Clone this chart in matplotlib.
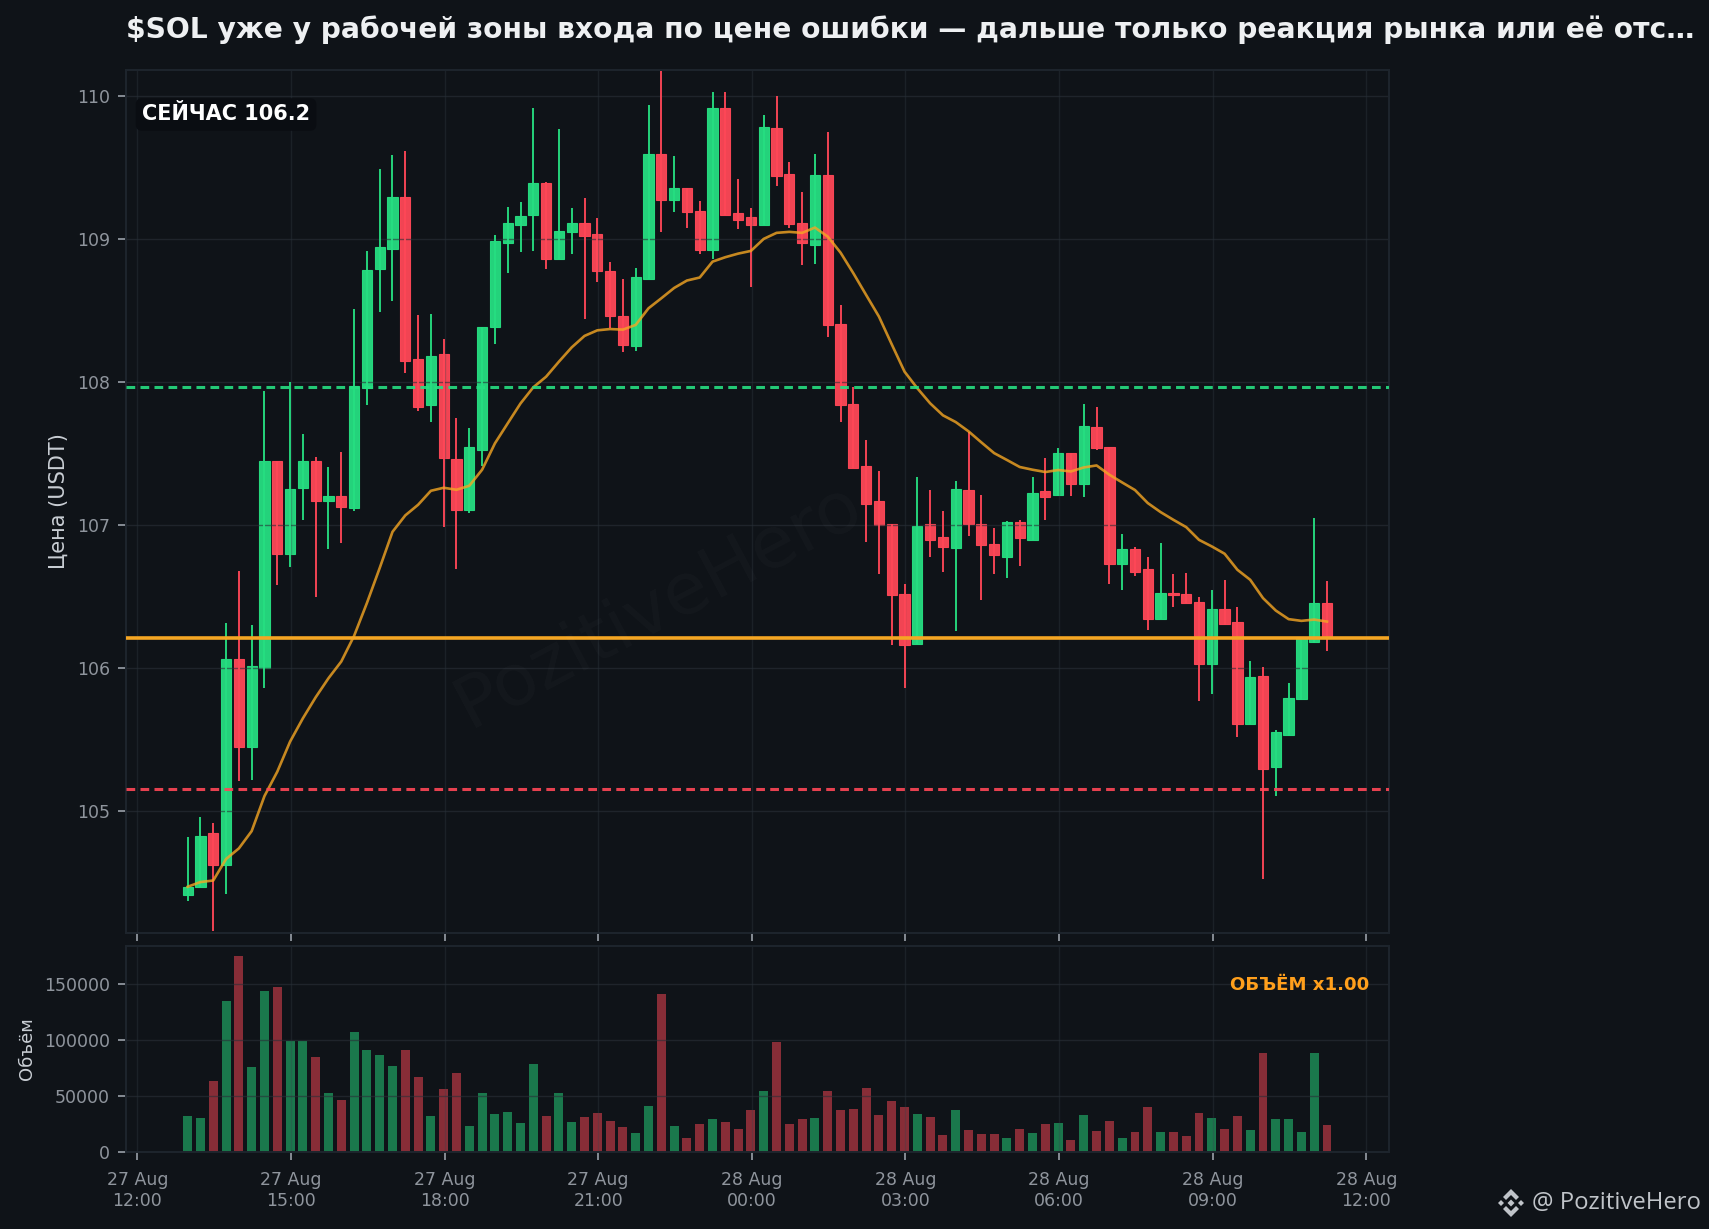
import numpy as np
import pandas as pd
import matplotlib
matplotlib.use('Agg')
import matplotlib.pyplot as plt
import matplotlib.dates as mdates
from matplotlib.patches import Polygon

# 15 min candles
start = '2025-08-27 12:59'
n_candles = 90

opens = [104.417, 104.469, 104.846, 104.627, 106.063, 105.447, 106.0, 107.448, 106.795, 107.256,
         107.45, 107.168, 107.205, 107.117, 107.956, 108.788, 108.932, 109.291, 108.158, 107.837,
         108.193, 107.459, 107.103, 107.522, 108.382, 108.974, 109.10, 109.166, 109.389, 108.862,
         109.051, 109.11, 109.033, 108.774, 108.459, 108.254, 108.723, 109.592, 109.275, 109.354,
         109.193, 108.925, 109.914, 109.179, 109.152, 109.096, 109.774, 109.452, 109.11, 108.96,
         109.445, 108.403, 107.848, 107.413, 107.168, 107.007, 106.517, 106.166, 107.007, 106.916,
         106.837, 107.245, 107.007, 106.867, 106.774, 107.019, 106.893, 107.238, 107.207, 107.503,
         107.284, 107.685, 107.545, 106.727, 106.832, 106.69, 106.347, 106.524, 106.517, 106.462,
         106.033, 106.413, 106.322, 105.613, 105.944, 105.308, 105.535, 105.783, 106.186, 106.455]
highs = [104.818, 104.958, 104.916, 106.315, 106.678, 106.30, 107.937, 107.448, 108.0, 107.636,
         107.473, 107.408, 107.508, 108.508, 108.916, 109.487, 109.585, 109.613, 108.466, 108.473,
         108.298, 107.746, 107.676, 108.387, 109.026, 109.221, 109.256, 109.914, 109.399, 109.767,
         109.214, 109.284, 109.145, 108.837, 108.718, 108.795, 109.935, 110.175, 109.578, 109.354,
         109.266, 110.026, 110.026, 109.417, 109.214, 109.865, 110.0, 109.536, 109.326, 109.592,
         109.746, 108.536, 107.963, 107.594, 107.378, 107.007, 106.59, 107.336, 107.245, 107.10,
         107.308, 107.648, 107.21, 106.979, 107.028, 107.035, 107.336, 107.469, 107.538, 107.503,
         107.846, 107.825, 107.545, 106.937, 106.846, 106.776, 106.874, 106.657, 106.664, 106.497,
         106.545, 106.615, 106.427, 106.049, 106.007, 105.566, 105.895, 106.21, 107.049, 106.608]
lows = [104.375, 104.469, 104.165, 104.422, 105.214, 105.219, 105.862, 106.583, 106.704, 107.033,
        106.50, 106.832, 106.872, 107.096, 107.842, 108.492, 108.569, 108.06, 107.80, 107.723,
        106.99, 106.69, 107.084, 107.41, 108.268, 108.76, 108.911, 108.918, 108.793, 108.862,
        108.897, 108.443, 108.70, 108.375, 108.212, 108.219, 108.723, 109.051, 109.191, 109.079,
        108.897, 108.86, 109.17, 109.07, 108.667, 109.096, 109.366, 109.079, 108.82, 108.825,
        108.317, 107.723, 107.396, 106.879, 106.655, 106.163, 105.865, 106.166, 106.774, 106.669,
        106.263, 106.921, 106.478, 106.655, 106.632, 106.711, 106.893, 107.037, 107.2, 107.2,
        107.193, 107.522, 106.592, 106.55, 106.641, 106.27, 106.347, 106.431, 106.455, 105.772,
        105.823, 106.305, 105.522, 105.613, 104.529, 105.11, 105.529, 105.776, 106.177, 106.123]
closes = [104.473, 104.83, 104.627, 106.063, 105.447, 106.016, 107.45, 106.795, 107.252, 107.45,
          107.168, 107.205, 107.126, 107.972, 108.78, 108.942, 109.291, 108.149, 107.823, 108.18,
          107.466, 107.103, 107.543, 108.387, 108.984, 109.11, 109.158, 109.389, 108.862, 109.058,
          109.11, 109.023, 108.774, 108.464, 108.261, 108.732, 109.592, 109.275, 109.354, 109.191,
          108.925, 109.914, 109.17, 109.135, 109.096, 109.781, 109.436, 109.103, 108.974, 109.445,
          108.40, 107.841, 107.396, 107.145, 107.002, 106.515, 106.159, 106.993, 106.893, 106.844,
          107.252, 107.005, 106.858, 106.788, 107.019, 106.907, 107.221, 107.196, 107.503, 107.284,
          107.692, 107.538, 106.727, 106.832, 106.674, 106.347, 106.524, 106.51, 106.455, 106.033,
          106.413, 106.312, 105.613, 105.937, 105.298, 105.552, 105.795, 106.21, 106.455, 106.21]
ma_line = [104.473, 104.506, 104.517, 104.667, 104.741, 104.862, 105.107, 105.277, 105.487, 105.65,
           105.797, 105.93, 106.047, 106.226, 106.455, 106.70, 106.953, 107.068, 107.142, 107.24,
           107.261, 107.247, 107.275, 107.387, 107.571, 107.711, 107.85, 107.963, 108.037, 108.142,
           108.242, 108.322, 108.361, 108.37, 108.366, 108.399, 108.515, 108.585, 108.657, 108.709,
           108.73, 108.841, 108.872, 108.897, 108.916, 109.0, 109.042, 109.049, 109.042, 109.079,
           109.016, 108.904, 108.76, 108.608, 108.457, 108.263, 108.072, 107.956, 107.851, 107.767,
           107.72, 107.655, 107.578, 107.503, 107.455, 107.406, 107.387, 107.371, 107.385, 107.375,
           107.403, 107.417, 107.352, 107.298, 107.245, 107.154, 107.091, 107.037, 106.986, 106.897,
           106.851, 106.80, 106.688, 106.618, 106.49, 106.403, 106.343, 106.331, 106.34, 106.326]
volumes = [32200, 30400, 63600, 134300, 174600, 76100, 143300, 146900, 98500, 98500,
           84200, 52800, 46600, 106600, 91300, 86000, 77000, 91300, 67200, 32200,
           56400, 70700, 23300, 52800, 34000, 35800, 26000, 78800, 32200, 52800,
           26900, 31300, 34900, 27800, 22400, 17000, 41200, 140600, 23300, 12500,
           25000, 29600, 26900, 20600, 37600, 54600, 97600, 25100, 29600, 30400,
           54600, 37600, 38500, 57300, 33100, 45700, 40300, 34000, 31300, 15200,
           37600, 19700, 16100, 16100, 12500, 20600, 17000, 25100, 26000, 10700,
           33100, 18800, 27800, 12500, 17900, 40300, 17900, 17900, 14300, 34900,
           30400, 20600, 32200, 19700, 87800, 29600, 29600, 17900, 87800, 24200]

current_price = 106.214
upper_level = 107.963
lower_level = 105.154

title = '$SOL уже у рабочей зоны входа по цене ошибки — дальше только реакция рынка или её отс…'

BG = '#0f1318'
GRID = '#2a3038'
SPINE = '#1e252d'
TICK = '#8f959d'
GREEN = '#26de81'
RED = '#ff4757'
ORANGE = '#f5a623'

W, H = 1709, 1229
times = pd.date_range(start, periods=n_candles, freq='15min')
x = mdates.date2num(times)
o = np.array(opens)
c = np.array(closes)
up = c >= o
colors = [GREEN if u else RED for u in up]
step = 15 / (24 * 60)
dash = (0, (2.85, 1.73))

fig = plt.figure(figsize=(W / 100, H / 100), dpi=100, facecolor=BG)
ax = fig.add_axes([126.5 / W, 1 - 933 / H, (1388.8 - 126.5) / W, (933 - 70) / H], facecolor=BG)
ax2 = fig.add_axes([126.5 / W, 1 - 1152 / H, (1388.8 - 126.5) / W, (1152 - 946) / H], facecolor=BG, sharex=ax)

# candles, the grid sits over the bodies but under the wicks
ax.vlines(x, lows, highs, colors=colors, linewidth=1.4, alpha=0.95, zorder=2)
ax.bar(x, np.abs(c - o), bottom=np.minimum(o, c), width=step * 0.8, color=colors,
       edgecolor=colors, linewidth=0.8, alpha=0.95, zorder=1)
ax.plot(x, ma_line, color=ORANGE, lw=1.9, alpha=0.8, zorder=3)
ax.axhline(current_price, color=ORANGE, lw=2.6, alpha=1.0, zorder=3)
ax.axhline(upper_level, color=GREEN, lw=2.2, ls=dash, alpha=0.9, zorder=3)
ax.axhline(lower_level, color=RED, lw=2.2, ls=dash, alpha=0.9, zorder=3)

ax.set_ylim(104.15, 110.18)
t0 = mdates.date2num(pd.Timestamp('2025-08-27 12:00'))
ax.set_xlim(t0 - 0.211 / 24, t0 + 24.44 / 24)
ax.set_yticks([105, 106, 107, 108, 109, 110])
ax.set_ylabel('Цена (USDT)', color='#c9ced4', fontsize=15)
ax.yaxis.set_label_coords(-0.0455, 0.5)

fig.text(659 / W, 1 - 605 / H, 'PozitiveHero', color='#ffffff', alpha=0.025, fontsize=52,
         rotation=28, ha='center', va='center')
fig.text(142 / W, 1 - 114.5 / H, 'СЕЙЧАС 106.2', color='white', fontsize=15, fontweight='bold',
         ha='left', va='center', zorder=10,
         bbox=dict(boxstyle='round,pad=0.3', facecolor='#0a0d12', edgecolor='none'))

# volume
ax2.bar(x, volumes, width=step * 0.7, color=colors, alpha=0.5, zorder=1)
ax2.set_ylim(0, 183500)
ax2.set_yticks([0, 50000, 100000, 150000])
ax2.set_ylabel('Объём', color='#c9ced4', fontsize=13)
ax2.yaxis.set_label_coords(-0.0717, 0.5)
fig.text(1369 / W, 1 - 985.5 / H, 'ОБЪЁМ x1.00', color='#ff9f1c', fontsize=13.1, fontweight='bold',
         ha='right', va='center')

for a in (ax, ax2):
    a.grid(True, axis='y', color=GRID, lw=1.0, alpha=0.6)
    a.grid(True, axis='x', color='#3a424c', lw=1.0, alpha=0.3)
    a.tick_params(colors=TICK, labelsize=12.5, length=6, width=1.3, pad=6)
    for s in a.spines.values():
        s.set_color(SPINE)
        s.set_linewidth(1.4)

ax.xaxis.set_major_locator(mdates.HourLocator(byhour=range(0, 24, 3)))
ax.xaxis.set_major_formatter(mdates.DateFormatter('%d %b\n%H:%M'))
ax.tick_params(labelbottom=False)
ax2.tick_params(axis='x', pad=8)

fig.text(126 / W, 1 - 30 / H, title, color='#eef0f2', fontsize=20.25, fontweight='bold',
         ha='left', va='center')

# signature with logo
fig.text(1532 / W, 1 - 1203 / H, '@ PozitiveHero', color='#c0c4c9', fontsize=17.2,
         family='Open Sans', ha='left', va='center')
logo = fig.add_axes([1497 / W, 1 - 1217 / H, 28 / W, 28 / H])
logo.set_xlim(-14, 14)
logo.set_ylim(-14, 14)
logo.axis('off')
logo_parts = [
    [(0, 3.5), (3.5, 0), (0, -3.5), (-3.5, 0)],
    [(-10, 3), (-7, 0), (-10, -3), (-13, 0)],
    [(10, 3), (13, 0), (10, -3), (7, 0)],
    [(0, 14), (8, 6), (5, 3), (0, 8), (-5, 3), (-8, 6)],
    [(0, -14), (8, -6), (5, -3), (0, -8), (-5, -3), (-8, -6)],
]
for part in logo_parts:
    logo.add_patch(Polygon(part, closed=True, facecolor='#c0c4c9', edgecolor='none'))

fig.savefig('out.png', dpi=100, facecolor=BG)
